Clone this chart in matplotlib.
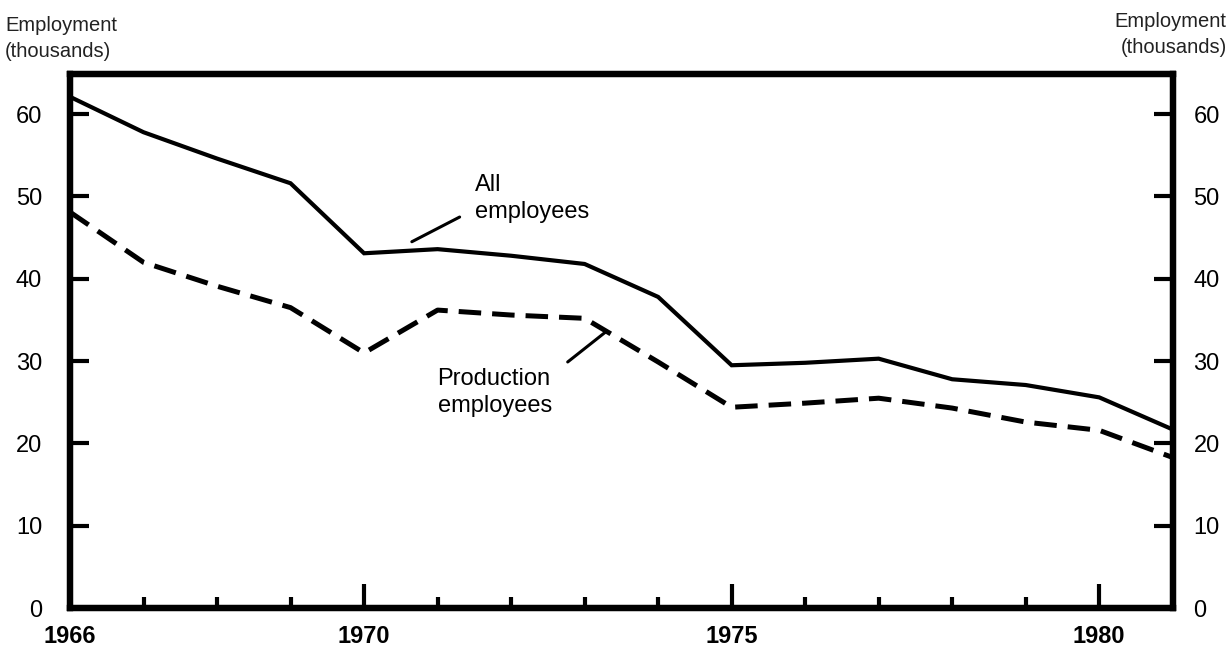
import matplotlib
matplotlib.use("Agg")
import matplotlib.pyplot as plt
from matplotlib.ticker import MultipleLocator, FixedLocator

years = list(range(1966, 1982))
all_employees = [62.1, 57.8, 54.6, 51.6, 43.1, 43.6, 42.8, 41.8, 37.8, 29.5, 29.8, 30.3, 27.8, 27.1, 25.6, 21.7]
production_employees = [48.1, 42.0, 39.1, 36.5, 31.0, 36.2, 35.6, 35.2, 29.9, 24.4, 24.9, 25.5, 24.3, 22.6, 21.6, 18.3]
x_labels = [1966, 1970, 1975, 1980]
y_ticks = [0, 10, 20, 30, 40, 50, 60]

plt.rcParams['font.family'] = ['Liberation Sans', 'DejaVu Sans']

fig = plt.figure(figsize=(12.28, 6.47), dpi=100)
ax = fig.add_axes([0.057, 0.060, 0.898, 0.826])

ax.plot(years, all_employees, color='black', lw=3.0, solid_joinstyle='miter')
ax.plot(years, production_employees, color='black', lw=3.6, dashes=(4.5, 2.2))

ax.set_xlim(1966, 1981)
ax.set_ylim(0, 64.9)

for s in ax.spines.values():
    s.set_linewidth(4.5)

ax.xaxis.set_major_locator(FixedLocator(x_labels))
ax.xaxis.set_minor_locator(MultipleLocator(1))
ax.set_xticklabels([str(v) for v in x_labels], fontsize=17, fontweight='bold')
ax.tick_params(axis='x', which='major', direction='in', length=17, width=3, pad=12)
ax.tick_params(axis='x', which='minor', direction='in', length=8, width=3)

ax.set_yticks(y_ticks)
ax.set_yticklabels([str(v) for v in y_ticks], fontsize=17)
ax.tick_params(axis='y', direction='in', length=14, width=3, pad=20)

ax2 = ax.twinx()
ax2.set_ylim(0, 64.9)
ax2.set_yticks(y_ticks)
ax2.set_yticklabels([str(v) for v in y_ticks], fontsize=17)
ax2.tick_params(axis='y', direction='in', length=14, width=3, pad=15)
for s in ax2.spines.values():
    s.set_linewidth(4.5)

fig.text(0.004, 0.941, "Employment\n(thousands)", fontsize=14.5, ha='left', va='center',
         linespacing=1.45, color='#222222')
fig.text(0.999, 0.947, "Employment\n(thousands)", fontsize=14.5, ha='right', va='center',
         linespacing=1.45, color='#222222', multialignment='right')

# All employees label and leader line
ax.text(1971.51, 49.7, "All\nemployees", fontsize=17, ha='left', va='center', linespacing=1.3)
ax.annotate("", xy=(1970.65, 44.5), xytext=(1971.30, 47.5),
            arrowprops=dict(arrowstyle='-', color='black', lw=2.2, shrinkA=0, shrinkB=0))

# Production employees label and leader line
ax.text(1971.00, 26.2, "Production\nemployees", fontsize=17, ha='left', va='center', linespacing=1.3)
ax.annotate("", xy=(1973.28, 33.5), xytext=(1972.77, 29.9),
            arrowprops=dict(arrowstyle='-', color='black', lw=2.2, shrinkA=0, shrinkB=0))

fig.savefig("out.png", dpi=100)
